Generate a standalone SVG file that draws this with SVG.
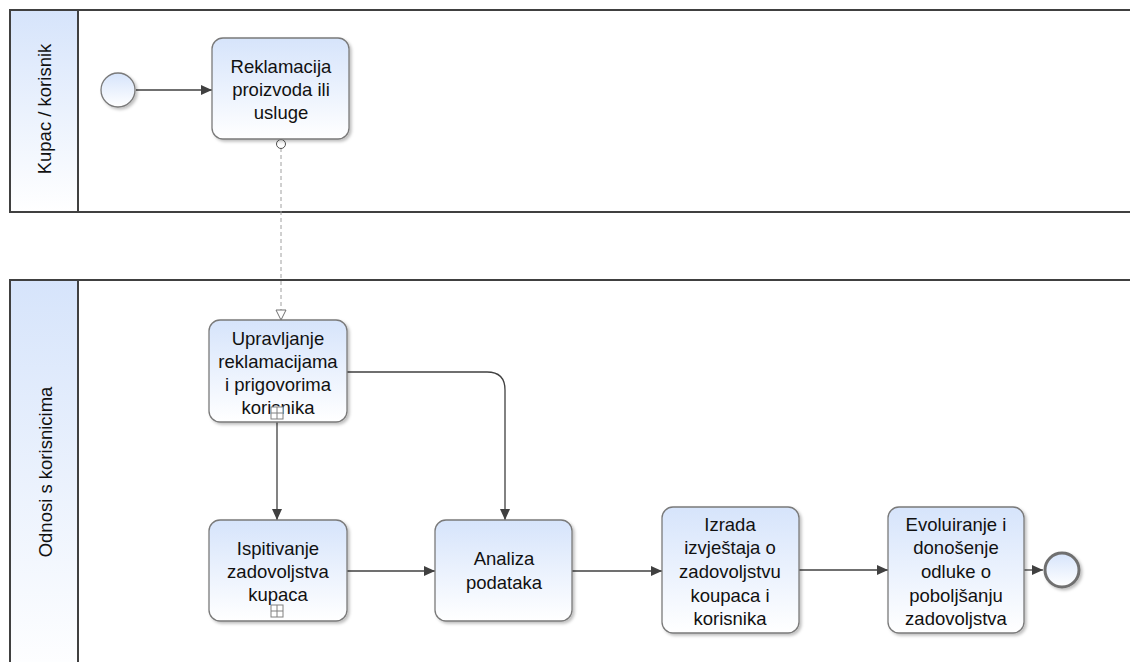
<svg xmlns="http://www.w3.org/2000/svg" width="1130" height="662" viewBox="0 0 1130 662">
<defs>
<linearGradient id="g" x1="0" y1="0" x2="0" y2="1"><stop offset="0" stop-color="#d6e4fb"/><stop offset="1" stop-color="#ffffff"/></linearGradient>
<linearGradient id="lg" x1="0" y1="0" x2="0" y2="1"><stop offset="0" stop-color="#d6e4fb"/><stop offset="1" stop-color="#ffffff"/></linearGradient>
<filter id="sh" x="-10%" y="-10%" width="130%" height="130%"><feDropShadow dx="2" dy="2" stdDeviation="1.5" flood-color="#000" flood-opacity="0.25"/></filter>
<marker id="ar" markerWidth="12" markerHeight="10" refX="11" refY="5" orient="auto" markerUnits="userSpaceOnUse"><path d="M0,0 L11,5 L0,10 z" fill="#404040"/></marker>
<marker id="oa" markerWidth="12" markerHeight="12" refX="6" refY="11" orient="0" markerUnits="userSpaceOnUse"><path d="M1,1 L11,1 L6,11 z" fill="#fff" stroke="#707070" stroke-width="1"/></marker>
</defs>
<style>
.lane{fill:#fff;stroke:#404040;stroke-width:2}
.hdr{fill:url(#lg);stroke:#404040;stroke-width:2}
.task{fill:url(#g);stroke:#7a7a7a;stroke-width:1.3;filter:url(#sh)}
.t{font-family:"Liberation Sans",Arial,sans-serif;font-size:18.5px;fill:#111;text-anchor:middle}
.c{fill:none;stroke:#404040;stroke-width:1.3}
.mk{fill:#fff;stroke:#808080;stroke-width:1}
</style>
<rect width="1130" height="662" fill="#fff"/>
<g id="pool1">
<rect class="lane" x="10" y="10" width="1130" height="202"/>
<rect class="hdr" x="10" y="10" width="68" height="202"/>
<text class="t" transform="translate(51,109) rotate(-90)">Kupac / korisnik</text>
</g>
<g id="pool2">
<rect class="lane" x="10" y="280" width="1130" height="400"/>
<rect class="hdr" x="10" y="280" width="68" height="400"/>
<text class="t" transform="translate(52,472) rotate(-90)">Odnosi s korisnicima</text>
</g>
<g id="connectors">
<line class="c" x1="136" y1="90" x2="212" y2="90" marker-end="url(#ar)"/>
<line x1="281" y1="148" x2="281" y2="320" stroke="#a0a0a0" stroke-width="1" stroke-dasharray="4,3" marker-end="url(#oa)"/>
<circle cx="281" cy="144" r="4.5" fill="#fff" stroke="#505050" stroke-width="1"/>
<line class="c" x1="277" y1="422" x2="277" y2="520" marker-end="url(#ar)"/>
<path class="c" d="M347,372 L487,372 Q505,372 505,390 L505,520" marker-end="url(#ar)"/>
<line class="c" x1="347" y1="571" x2="435" y2="571" marker-end="url(#ar)"/>
<line class="c" x1="572" y1="571" x2="662" y2="571" marker-end="url(#ar)"/>
<line class="c" x1="799" y1="570" x2="888" y2="570" marker-end="url(#ar)"/>
<line class="c" x1="1024" y1="570" x2="1043" y2="570" marker-end="url(#ar)"/>
</g>
<g id="start">
<circle cx="118" cy="90" r="17" fill="url(#g)" stroke="#7a7a7a" stroke-width="1.3" filter="url(#sh)"/>
</g>
<g id="task1">
<rect class="task" x="212" y="38" width="137" height="101" rx="11"/>
<text class="t" x="281" y="73">Reklamacija</text>
<text class="t" x="281" y="96">proizvoda ili</text>
<text class="t" x="281" y="119">usluge</text>
</g>
<g id="task2">
<rect class="task" x="209" y="320" width="138" height="102" rx="11"/>
<text class="t" x="278" y="345">Upravljanje</text>
<text class="t" x="278" y="368">reklamacijama</text>
<text class="t" x="278" y="391">i prigovorima</text>
<text class="t" x="278" y="414">korisnika</text>
<rect class="mk" x="271" y="407" width="12" height="12"/>
<path d="M277,407 V419 M271,413 H283" stroke="#808080" stroke-width="1"/>
</g>
<g id="task3">
<rect class="task" x="209" y="520" width="138" height="101" rx="11"/>
<text class="t" x="278" y="555">Ispitivanje</text>
<text class="t" x="278" y="578">zadovoljstva</text>
<text class="t" x="278" y="601">kupaca</text>
<rect class="mk" x="271" y="605" width="12" height="12"/>
<path d="M277,605 V617 M271,611 H283" stroke="#808080" stroke-width="1"/>
</g>
<g id="task4">
<rect class="task" x="435" y="520" width="137" height="101" rx="11"/>
<text class="t" x="504" y="565">Analiza</text>
<text class="t" x="504" y="589">podataka</text>
</g>
<g id="task5">
<rect class="task" x="662" y="507" width="137" height="126" rx="11"/>
<text class="t" x="730" y="531">Izrada</text>
<text class="t" x="730" y="554">izvještaja o</text>
<text class="t" x="730" y="578">zadovoljstvu</text>
<text class="t" x="730" y="602">koupaca i</text>
<text class="t" x="730" y="625">korisnika</text>
</g>
<g id="task6">
<rect class="task" x="888" y="507" width="136" height="126" rx="11"/>
<text class="t" x="956" y="531">Evoluiranje i</text>
<text class="t" x="956" y="554">donošenje</text>
<text class="t" x="956" y="578">odluke o</text>
<text class="t" x="956" y="602">poboljšanju</text>
<text class="t" x="956" y="625">zadovoljstva</text>
</g>
<g id="end">
<circle cx="1062" cy="570" r="17" fill="url(#g)" stroke="#707070" stroke-width="3" filter="url(#sh)"/>
</g>
</svg>
